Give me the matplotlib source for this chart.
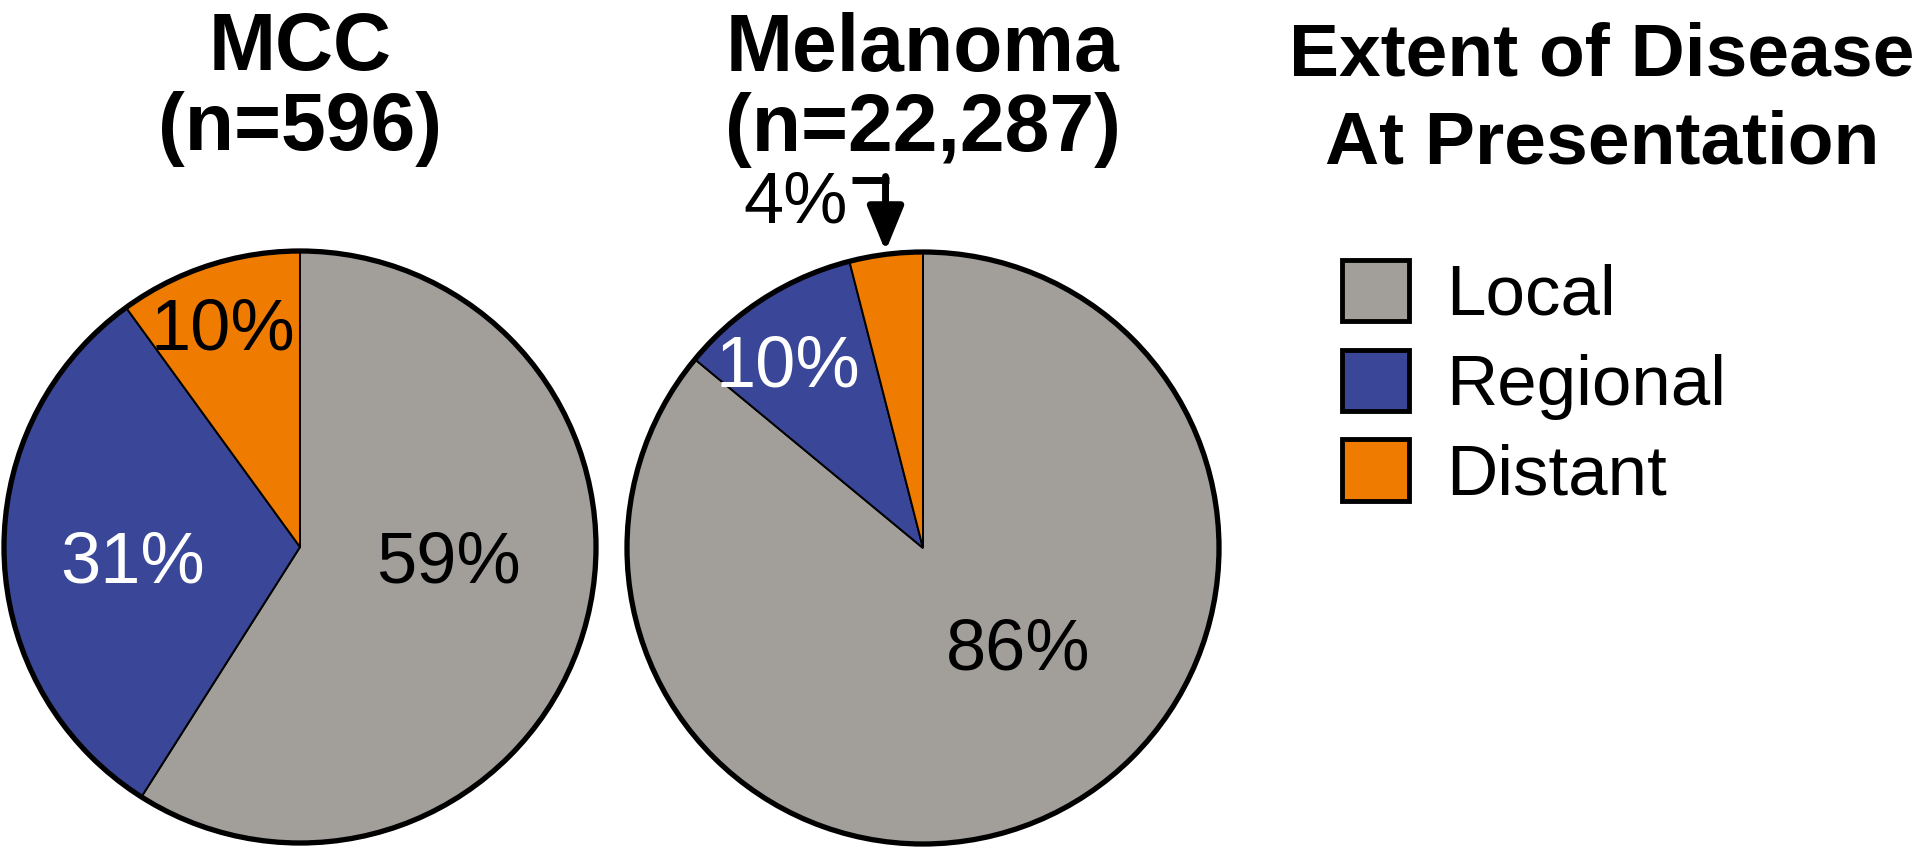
import numpy as np
import matplotlib.pyplot as plt
from matplotlib.patches import Circle, Patch

plt.rcParams['font.family'] = ['Liberation Sans', 'DejaVu Sans']

stages = ['Local', 'Regional', 'Distant']
colors = ['#a29f9b', '#3a4798', '#ef7c00']
groups = ['MCC', 'Melanoma']
group_n = ['596', '22,287']
mcc_pct = [59, 31, 10]
mel_pct = [86, 10, 4]

W, H = 1920, 850
R = 296      # pie radius, px
HALF = 400   # half size of each pie axes, px

fig = plt.figure(figsize=(19.2, 8.5), dpi=100)


def pie_axes(cx, cy):
    return fig.add_axes([(cx - HALF) / W, 1 - (cy + HALF) / H, 2 * HALF / W, 2 * HALF / H])


def draw_pie(ax, vals, name, n, lab_xy, lab_col):
    wedges, _ = ax.pie(vals, colors=colors, startangle=90, counterclock=False,
                       wedgeprops=dict(edgecolor='black', linewidth=1.4))
    ax.add_patch(Circle((0, 0), 1, fill=False, ec='black', lw=3.8, zorder=5))
    lim = HALF / R
    ax.set_xlim(-lim, lim)
    ax.set_ylim(-lim, lim)
    ax.set_aspect('equal')
    for v, (x, y), c in zip(vals, lab_xy, lab_col):
        ax.text(x, y, f'{v}%', fontsize=52, color=c, ha='center', va='baseline',
                clip_on=False, zorder=6)
    ax.text(0, 477 / R, name, fontsize=58, fontweight='bold', ha='center',
            va='baseline', clip_on=False)
    ax.text(0, 397 / R, f'(n={n})', fontsize=58, fontweight='bold', ha='center',
            va='baseline', clip_on=False)
    return wedges


ax1 = pie_axes(300, 547)
draw_pie(ax1, mcc_pct, groups[0], group_n[0],
         [(0.50, -0.12), (-0.565, -0.12), (-0.26, 0.666)],
         ['black', 'white', 'black'])

ax2 = pie_axes(923, 548)
w2 = draw_pie(ax2, mel_pct, groups[1], group_n[1],
              [(0.32, -0.41), (-0.455, 0.544), (-0.43, 1.10)],
              ['black', 'white', 'black'])

# bent arrow from the "4%" label to the small wedge
mid = np.deg2rad((w2[2].theta1 + w2[2].theta2) / 2)
tip = (np.cos(mid) * 1.01, np.sin(mid) * 1.01)
ybar = 1.243
ax2.plot([-0.24, tip[0] + 0.012], [ybar, ybar], color='black', lw=5,
         solid_capstyle='butt', clip_on=False)
ax2.annotate('', xy=tip, xytext=(tip[0], ybar + 0.012),
             arrowprops=dict(arrowstyle='-|>,head_length=27,head_width=11',
                             mutation_scale=1, lw=5, color='black',
                             shrinkA=0, shrinkB=0),
             annotation_clip=False)

# legend
fig.text(1602 / W, 1 - 76 / H, 'Extent of Disease', fontsize=54, fontweight='bold',
         ha='center', va='baseline')
fig.text(1602 / W, 1 - 164 / H, 'At Presentation', fontsize=54, fontweight='bold',
         ha='center', va='baseline')
handles = [Patch(facecolor=c, edgecolor='black', linewidth=3.5) for c in colors]
fig.legend(handles, stages, loc='upper left', bbox_to_anchor=(1342 / W, 1 - 260 / H),
           frameon=False, fontsize=51, handlelength=0.95, handleheight=0.95,
           handletextpad=0.52, labelspacing=0.28, borderpad=0, borderaxespad=0)

fig.savefig('out.png', dpi=100, facecolor='white')
